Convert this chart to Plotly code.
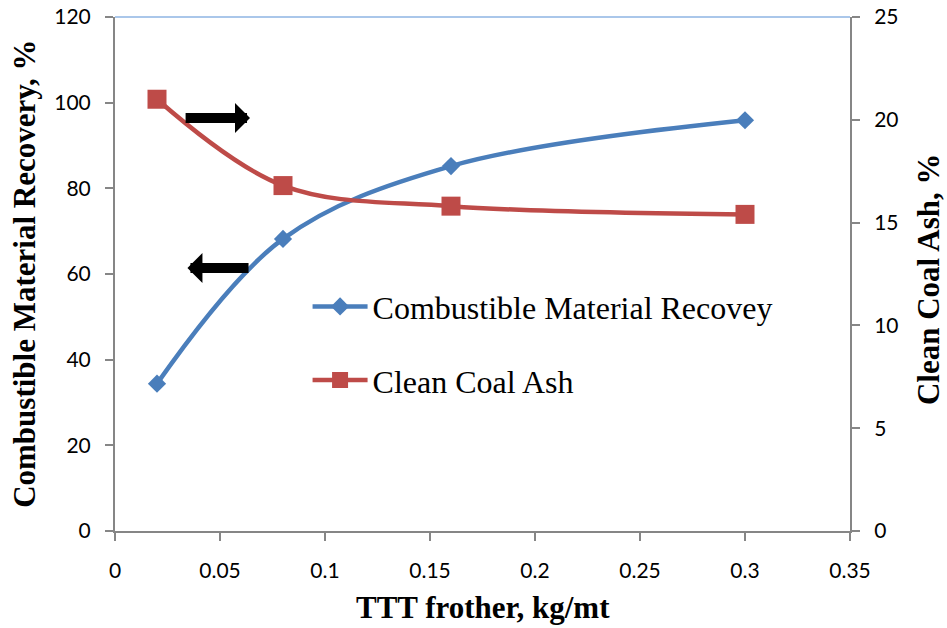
import plotly.graph_objects as go

# Frother dosage (kg/mt) and measured responses
frother_dose = [0.02, 0.08, 0.16, 0.30]
recovery_pct = [34.4, 68.2, 85.2, 95.9]   # left axis
ash_pct = [21.0, 16.8, 15.8, 15.4]        # right axis

x_ticks = [0, 0.05, 0.1, 0.15, 0.2, 0.25, 0.3, 0.35]
x_tick_text = ["0", "0.05", "0.1", "0.15", "0.2", "0.25", "0.3", "0.35"]

BLUE = "#4A7EBB"
RED = "#BE4B48"
AXIS_GRAY = "#868686"
TICK_FONT = dict(family="Lato, 'Open Sans', sans-serif", size=21, color="#000000")
TITLE_FONT = dict(family="'Liberation Serif', 'Times New Roman', serif", size=31, color="#000000")

fig = go.Figure()

fig.add_trace(go.Scatter(
    x=frother_dose, y=recovery_pct,
    name="Combustible Material Recovey",
    mode="lines+markers",
    line=dict(color=BLUE, width=4.5, shape="spline", smoothing=1.0),
    marker=dict(symbol="diamond", size=14, color=BLUE),
    legendgroup="a",
    yaxis="y",
))

fig.add_trace(go.Scatter(
    x=frother_dose, y=ash_pct,
    name="Clean Coal Ash",
    mode="lines+markers",
    line=dict(color=RED, width=4.5, shape="spline", smoothing=1.0),
    marker=dict(symbol="square", size=19, color=RED),
    legendgroup="b",
    yaxis="y2",
))

axis_common = dict(
    showgrid=False, zeroline=False, automargin=False,
    showline=True, linecolor=AXIS_GRAY, linewidth=2,
    ticks="outside", ticklen=8, tickwidth=1.5, tickcolor=AXIS_GRAY,
    tickfont=TICK_FONT,
)

fig.update_layout(
    width=947, height=628,
    margin=dict(l=115, r=97, t=17, b=97, autoexpand=False),
    paper_bgcolor="white", plot_bgcolor="white",
    showlegend=True,
    legend=dict(
        x=0.262, y=0.49, xanchor="left", yanchor="top",
        font=dict(family="'Liberation Serif', 'Times New Roman', serif", size=32, color="#000000"),
        bgcolor="rgba(0,0,0,0)",
        traceorder="grouped", tracegroupgap=29,
        itemwidth=55,
    ),
    xaxis=dict(
        range=[0, 0.35], tickvals=x_ticks, ticktext=x_tick_text,
        ticklabelstandoff=12, **axis_common,
    ),
    yaxis=dict(
        range=[0, 120], tickvals=[0, 20, 40, 60, 80, 100, 120],
        ticklabelstandoff=10, **axis_common,
    ),
    yaxis2=dict(
        range=[0, 25], tickvals=[0, 5, 10, 15, 20, 25],
        overlaying="y", side="right",
        ticklabelstandoff=10, **axis_common,
    ),
)

# thin border along the top of the plot area
fig.add_shape(type="line", xref="paper", yref="paper", x0=0, x1=1, y0=1, y1=1,
              line=dict(color="#8EB4E3", width=1.5))

# axis titles
fig.add_annotation(text="<b>TTT frother, kg/mt</b>", xref="paper", yref="paper",
                   x=0.5, y=-0.148, xanchor="center", yanchor="middle",
                   showarrow=False, font=TITLE_FONT)
fig.add_annotation(text="<b>Combustible Material Recovery, %</b>", xref="paper", yref="paper",
                   x=-0.124, y=0.5, xanchor="center", yanchor="middle", textangle=-90,
                   showarrow=False, font=TITLE_FONT)
fig.add_annotation(text="<b>Clean Coal Ash, %</b>", xref="paper", yref="paper",
                   x=1.106, y=0.49, xanchor="center", yanchor="middle", textangle=-90,
                   showarrow=False, font=TITLE_FONT)

# arrows pointing each curve to its axis
fig.add_annotation(x=0.0643, y=96.4, ax=0.0329, ay=96.4, xref="x", yref="y",
                   axref="x", ayref="y", text="", showarrow=True,
                   arrowhead=1, arrowwidth=10, arrowsize=0.5, arrowcolor="#000000")
fig.add_annotation(x=0.0345, y=61.4, ax=0.0643, ay=61.4, xref="x", yref="y",
                   axref="x", ayref="y", text="", showarrow=True,
                   arrowhead=1, arrowwidth=10, arrowsize=0.5, arrowcolor="#000000")

fig.write_html("out.html")
